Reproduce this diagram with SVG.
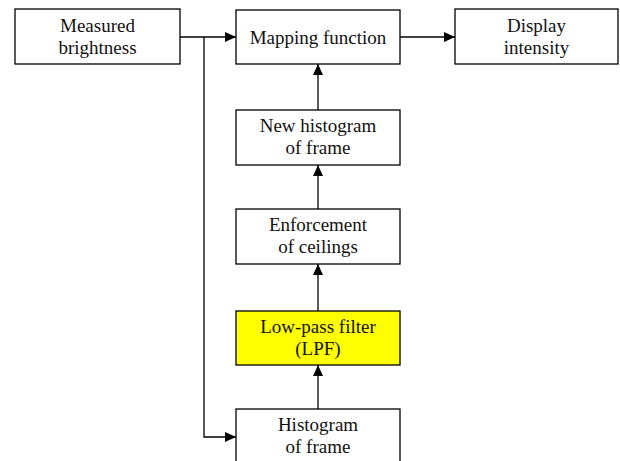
<svg xmlns="http://www.w3.org/2000/svg" width="620" height="461" viewBox="0 0 620 461">
<defs>
<marker id="ah" markerWidth="12" markerHeight="12" refX="11" refY="6" orient="auto" markerUnits="userSpaceOnUse">
<path d="M0,1 L11,6 L0,11 Z" fill="#000"/>
</marker>
<style>
.box{fill:#fff;stroke:#000;stroke-width:1.3}
.yel{fill:#ffff00;stroke:#000;stroke-width:1.3}
.t{font-family:'Liberation Serif','Times New Roman',serif;font-size:19px;fill:#111;text-anchor:middle}
.ln{fill:none;stroke:#000;stroke-width:1.3}
</style>
</defs>
<rect width="620" height="461" fill="#fff"/>
<g id="measured">
<rect class="box" x="15" y="9" width="165" height="55"/>
<text class="t" font-family="Liberation Serif, serif" x="97.5" y="32">Measured</text>
<text class="t" font-family="Liberation Serif, serif" x="97.5" y="54">brightness</text>
</g>
<g id="mapping">
<rect class="box" x="236" y="10" width="164" height="54"/>
<text class="t" font-family="Liberation Serif, serif" x="318" y="44">Mapping function</text>
</g>
<g id="display">
<rect class="box" x="455" y="9" width="163" height="55"/>
<text class="t" font-family="Liberation Serif, serif" x="536.5" y="32">Display</text>
<text class="t" font-family="Liberation Serif, serif" x="536.5" y="54">intensity</text>
</g>
<g id="newhist">
<rect class="box" x="236" y="110" width="164" height="55"/>
<text class="t" font-family="Liberation Serif, serif" x="318" y="132">New histogram</text>
<text class="t" font-family="Liberation Serif, serif" x="318" y="154">of frame</text>
</g>
<g id="enforce">
<rect class="box" x="236" y="209" width="164" height="55"/>
<text class="t" font-family="Liberation Serif, serif" x="318" y="231">Enforcement</text>
<text class="t" font-family="Liberation Serif, serif" x="318" y="253">of ceilings</text>
</g>
<g id="lpf">
<rect class="yel" x="236" y="311" width="164" height="54"/>
<text class="t" font-family="Liberation Serif, serif" x="318" y="333">Low-pass filter</text>
<text class="t" font-family="Liberation Serif, serif" x="318" y="355">(LPF)</text>
</g>
<g id="hist">
<rect class="box" x="236" y="409" width="164" height="60"/>
<text class="t" font-family="Liberation Serif, serif" x="318" y="431">Histogram</text>
<text class="t" font-family="Liberation Serif, serif" x="318" y="453">of frame</text>
</g>
<g id="connectors">
<line class="ln" x1="180" y1="37" x2="236" y2="37" marker-end="url(#ah)"/>
<line class="ln" x1="400" y1="37" x2="455" y2="37" marker-end="url(#ah)"/>
<polyline class="ln" points="204,37 204,437 236,437" marker-end="url(#ah)"/>
<line class="ln" x1="318" y1="110" x2="318" y2="64" marker-end="url(#ah)"/>
<line class="ln" x1="318" y1="209" x2="318" y2="165" marker-end="url(#ah)"/>
<line class="ln" x1="318" y1="311" x2="318" y2="264" marker-end="url(#ah)"/>
<line class="ln" x1="318" y1="409" x2="318" y2="365" marker-end="url(#ah)"/>
</g>
</svg>
